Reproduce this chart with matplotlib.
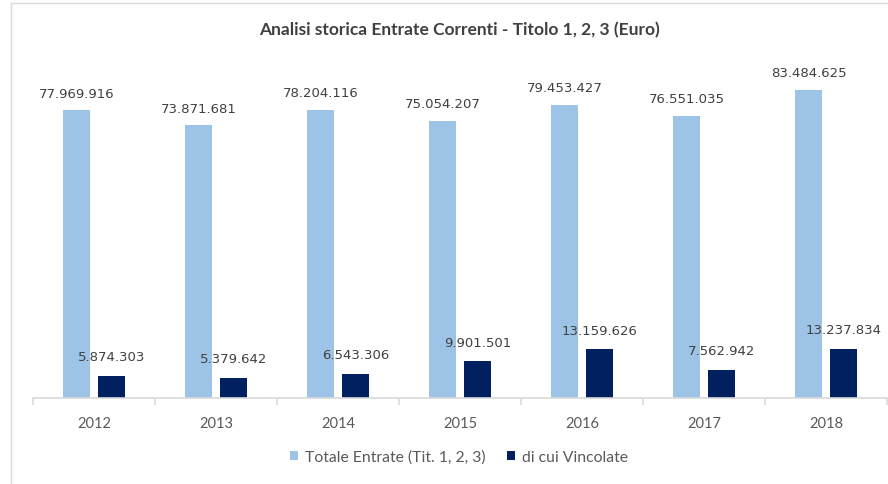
import matplotlib
matplotlib.use("Agg")
import matplotlib.pyplot as plt
import numpy as np
from matplotlib.patches import Rectangle

years = ["2012", "2013", "2014", "2015", "2016", "2017", "2018"]
totale = [77969916, 73871681, 78204116, 75054207, 79453427, 76551035, 83484625]
vincolate = [5874303, 5379642, 6543306, 9901501, 13159626, 7562942, 13237834]
title = "Analisi storica Entrate Correnti - Titolo 1, 2, 3 (Euro)"
series_names = ["Totale Entrate (Tit. 1, 2, 3)", "di cui Vincolate"]

light = "#9DC3E6"
dark = "#002060"

fig = plt.figure(figsize=(8.88, 4.85), dpi=100)
ax = fig.add_axes([33/888, 1-399/485, (887-33)/888, (399-67)/485])

x = np.arange(len(years))
w = 0.22
off = 0.143
b1 = ax.bar(x - off, totale, w, color=light, label=series_names[0])
b2 = ax.bar(x + off, vincolate, w, color=dark, label=series_names[1])

def fmt(v):
    return f"{v:,}".replace(",", ".")

for xi, v in zip(x, totale):
    ax.annotate(fmt(v), (xi - off, v), xytext=(0, 7.7), textcoords="offset points",
                ha="center", va="bottom", fontsize=9.5, color="#404040", family="DejaVu Sans")
for xi, v in zip(x, vincolate):
    ax.annotate(fmt(v), (xi + off, v), xytext=(0, 9.3), textcoords="offset points",
                ha="center", va="bottom", fontsize=9.5, color="#404040", family="DejaVu Sans")

ax.set_xlim(-0.5, len(years) - 0.5)
ax.set_ylim(0, 90e6)
ax.set_yticks([])
for s in ["left", "right", "top"]:
    ax.spines[s].set_visible(False)
ax.spines["bottom"].set_color("#D9D9D9")
ax.spines["bottom"].set_linewidth(1.2)
ax.set_xticks(x)
ax.set_xticklabels(years, fontsize=10.5, color="#595959", family="Lato")
ax.tick_params(axis="x", which="major", length=0, pad=13)
ax.set_xticks(np.arange(-0.5, len(years)), minor=True)
ax.tick_params(axis="x", which="minor", length=5, color="#D9D9D9", width=1.2)

fig.text(459/888, 1-30/485, title, ha="center", va="center", fontsize=12.5,
         color="#404040", family="Lato", fontweight="bold")

leg = fig.legend(handles=[b1, b2], labels=series_names, loc="center",
                 bbox_to_anchor=(459/888, 1-458/485), ncol=2, frameon=False,
                 handlelength=0.55, handleheight=0.55, handletextpad=0.45,
                 columnspacing=1.3, prop={"family": "Lato", "size": 11.3})
for t in leg.get_texts():
    t.set_color("#595959")

fig.patches.append(Rectangle((11/888, -0.02), 1.05, 1 - 4/485 + 0.02,
                             transform=fig.transFigure, fill=False,
                             edgecolor="#D9D9D9", linewidth=1, clip_on=False))

fig.savefig("out.png", dpi=100, facecolor="white")
